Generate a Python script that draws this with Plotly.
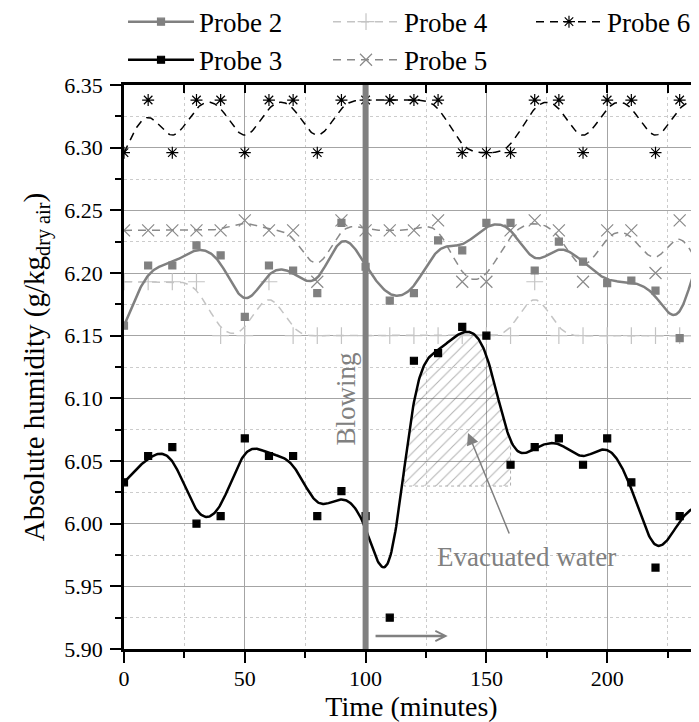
import numpy as np
import plotly.graph_objects as go

# dados (umidade absoluta, g/kg ar seco), uma leitura a cada 10 min
time_min = [0, 10, 20, 30, 40, 50, 60, 70, 80, 90, 100, 110, 120,
            130, 140, 150, 160, 170, 180, 190, 200, 210, 220, 230, 240, 250]
probe2 = [6.158, 6.206, 6.206, 6.222, 6.214, 6.165, 6.206, 6.202, 6.184, 6.240, 6.205, 6.178, 6.184,
          6.226, 6.218, 6.240, 6.240, 6.202, 6.225, 6.209, 6.192, 6.194, 6.186, 6.148, 6.240, 6.240]
probe3 = [6.033, 6.054, 6.061, 6.000, 6.006, 6.068, 6.054, 6.054, 6.006, 6.026, 6.006, 5.925, 6.130,
          6.136, 6.157, 6.150, 6.047, 6.061, 6.068, 6.047, 6.068, 6.033, 5.965, 6.006, 6.020, 5.990]
probe4 = [6.193, 6.193, 6.193, 6.193, 6.150, 6.150, 6.193, 6.150, 6.150, 6.150, 6.150, 6.150, 6.150,
          6.150, 6.150, 6.150, 6.150, 6.193, 6.150, 6.150, 6.150, 6.150, 6.150, 6.150, 6.150, 6.150]
probe5 = [6.234, 6.234, 6.234, 6.234, 6.234, 6.242, 6.234, 6.234, 6.193, 6.242, 6.234, 6.234, 6.234,
          6.242, 6.193, 6.193, 6.234, 6.242, 6.234, 6.193, 6.234, 6.234, 6.200, 6.242, 6.193, 6.193]
probe6 = [6.296, 6.338, 6.296, 6.338, 6.338, 6.296, 6.338, 6.338, 6.296, 6.338, 6.338, 6.338, 6.338,
          6.338, 6.296, 6.296, 6.296, 6.338, 6.338, 6.296, 6.338, 6.338, 6.296, 6.338, 6.338, 6.338]

BLOWING_T = 100
HATCH_FROM, HATCH_TO, HATCH_BASE = 116, 160, 6.03

FONT = "Liberation Serif, Times New Roman, serif"
GRAY = "#808080"
# a página tem margem de 8 px no body: a figura é 8 px menor para caber na janela
_W, _H = 691, 714


def bspline(xs, ys, n=30):
    # curva B-spline cúbica uniforme (pontos de controle = dados), como o "B-Spline" do Origin
    px = np.r_[[xs[0]] * 2, xs, [xs[-1]] * 2].astype(float)
    py = np.r_[[ys[0]] * 2, ys, [ys[-1]] * 2].astype(float)
    t = np.linspace(0, 1, n, endpoint=False)
    b0 = (1 - t) ** 3 / 6
    b1 = (3 * t**3 - 6 * t**2 + 4) / 6
    b2 = (-3 * t**3 + 3 * t**2 + 3 * t + 1) / 6
    b3 = t**3 / 6
    cx, cy = [], []
    for i in range(len(px) - 3):
        cx.append(b0 * px[i] + b1 * px[i + 1] + b2 * px[i + 2] + b3 * px[i + 3])
        cy.append(b0 * py[i] + b1 * py[i + 1] + b2 * py[i + 2] + b3 * py[i + 3])
    cx.append([px[-1]])
    cy.append([py[-1]])
    return np.concatenate(cx), np.concatenate(cy)


series = [
    # nome, dados, cor linha, largura, traço, símbolo, tamanho, cor marcador, legenda
    ("Probe 4", probe4, "#c4c4c4", 1.5, "8px,6px", "cross-thin-open", 12, "#c4c4c4", "legend2"),
    ("Probe 5", probe5, "#8a8a8a", 1.5, "8px,6px", "x-thin-open", 12, "#8a8a8a", "legend2"),
    ("Probe 2", probe2, GRAY, 2.5, "solid", "square", 7, GRAY, "legend"),
    ("Probe 6", probe6, "black", 1.5, "8px,6px", "asterisk-open", 10, "black", "legend3"),
    ("Probe 3", probe3, "black", 2.5, "solid", "square", 7, "black", "legend"),
]
legend_order = {"Probe 2": 1, "Probe 3": 2, "Probe 4": 1, "Probe 5": 2, "Probe 6": 1}

fig = go.Figure()

# área hachurada sob a curva do Probe 3 (água evacuada)
cx3, cy3 = bspline(time_min, probe3)
sel = (cx3 >= HATCH_FROM) & (cx3 <= HATCH_TO) & (cy3 >= HATCH_BASE)
hx = np.r_[cx3[sel], cx3[sel][-1], cx3[sel][0], cx3[sel][0]]
hy = np.r_[cy3[sel], HATCH_BASE, HATCH_BASE, cy3[sel][0]]
fig.add_trace(go.Scatter(x=hx, y=hy, mode="lines", fill="toself",
                         line=dict(color="#9a9a9a", width=0.8, dash="dot"),
                         fillcolor="rgba(0,0,0,0)",
                         fillpattern=dict(shape="/", size=8, solidity=0.12,
                                          fgcolor="#606060", bgcolor="rgba(0,0,0,0)"),
                         showlegend=False, hoverinfo="skip"))

for name, vals, lc, lw, dash, sym, ms, mc, leg in series:
    cx, cy = bspline(time_min, vals)
    fig.add_trace(go.Scatter(x=cx, y=cy, mode="lines", line=dict(color=lc, width=lw, dash=dash),
                             showlegend=False, hoverinfo="skip"))
    mk = dict(symbol=sym, size=ms, color=mc, line=dict(color=mc, width=1.2))
    fig.add_trace(go.Scatter(x=time_min, y=vals, mode="markers", marker=mk,
                             showlegend=False, name=name))
    fig.add_trace(go.Scatter(x=[None], y=[None], mode="lines+markers", name=name,
                             line=dict(color=lc, width=lw, dash=dash), marker=mk,
                             legend=leg, legendrank=legend_order[name]))

# eixo superior / direito só com marcas internas
fig.add_trace(go.Scatter(x=[None], y=[None], xaxis="x2", yaxis="y2", showlegend=False))

fig.add_shape(type="line", x0=BLOWING_T, x1=BLOWING_T, y0=5.90, y1=6.35,
              line=dict(color=GRAY, width=6), layer="above")

fig.add_annotation(x=91.9, y=6.099, text="Blowing", textangle=-90, showarrow=False,
                   font=dict(family=FONT, size=27, color=GRAY))
fig.add_annotation(x=134, y=5.9104, ax=103.5, ay=5.9104, axref="x", ayref="y", text="",
                   showarrow=True, arrowhead=5, arrowsize=0.8, arrowwidth=2.5, arrowcolor=GRAY)
fig.add_annotation(x=166.4, y=5.9734, text="Evacuated water", showarrow=False,
                   font=dict(family=FONT, size=27, color=GRAY))
fig.add_annotation(x=142.4, y=6.0724, ax=159.7, ay=5.991, axref="x", ayref="y", text="",
                   showarrow=True, arrowhead=2, arrowsize=1.6, arrowwidth=1.5, arrowcolor=GRAY)

axis_common = dict(showline=True, linecolor="black", linewidth=2.5, mirror=False,
                   ticks="outside", ticklen=11, tickwidth=2, tickcolor="black",
                   gridcolor="#a4a4a4", gridwidth=1, zeroline=False,
                   tickfont=dict(family=FONT, size=22, color="black"))

legend_common = dict(orientation="v", xanchor="left", yanchor="top", y=1.155,
                     font=dict(family=FONT, size=27, color="black"),
                     bgcolor="rgba(0,0,0,0)", itemwidth=66, tracegroupgap=0)

fig.update_layout(
    width=_W, height=_H,
    margin=dict(l=116, r=0, t=77, b=73, autoexpand=False),
    plot_bgcolor="white", paper_bgcolor="white",
    font=dict(family=FONT, color="black"),
    xaxis=dict(range=[0, 238], dtick=50, tick0=0, ticklabelstandoff=-3,
               title=dict(text="Time (minutes)", font=dict(family=FONT, size=28, color="black"),
                          standoff=9),
               minor=dict(dtick=25, ticks="outside", ticklen=6, tickwidth=2, tickcolor="black",
                          showgrid=True, gridcolor="#cccccc", griddash="dot"),
               **axis_common),
    yaxis=dict(range=[5.90, 6.35], dtick=0.05, tick0=5.90, tickformat=".2f",
               ticklabelstandoff=3,
               title=dict(text="Absolute humidity (g/kg<sub>dry air</sub>)",
                          font=dict(family=FONT, size=29, color="black"), standoff=12),
               minor=dict(dtick=0.025, ticks="outside", ticklen=6, tickwidth=2, tickcolor="black",
                          showgrid=True, gridcolor="#cccccc", griddash="dot"),
               **axis_common),
    xaxis2=dict(overlaying="x", side="top", range=[0, 238], dtick=50, tick0=0,
                showline=True, linecolor="black", linewidth=2.5,
                ticks="inside", ticklen=8, tickwidth=2, tickcolor="black",
                showticklabels=False, showgrid=False, zeroline=False,
                minor=dict(dtick=25, ticks="inside", ticklen=8, tickwidth=2, tickcolor="black")),
    yaxis2=dict(overlaying="y", side="right", range=[5.90, 6.35], dtick=0.05, tick0=5.90,
                showline=False, ticks="inside", ticklen=5, tickwidth=3, tickcolor="black",
                showticklabels=False, showgrid=False, zeroline=False,
                minor=dict(dtick=0.025, ticks="inside", ticklen=3, tickwidth=2, tickcolor="black")),
    legend=dict(x=-0.0017, **legend_common),
    legend2=dict(x=0.3548, **legend_common),
    legend3=dict(x=0.7078, **legend_common),
)

fig.write_html("out.html")
